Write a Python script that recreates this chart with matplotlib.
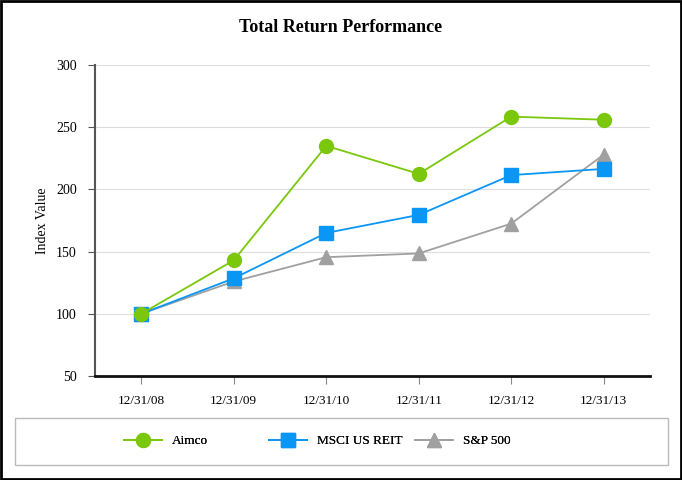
import numpy as np
import matplotlib
matplotlib.use("Agg")
import matplotlib.pyplot as plt
from matplotlib.patches import Rectangle
from matplotlib.lines import Line2D

plt.rcParams['font.family'] = ['Liberation Serif', 'DejaVu Serif']

# Data
dates = ["12/31/08", "12/31/09", "12/31/10", "12/31/11", "12/31/12", "12/31/13"]
aimco = [100, 143, 235, 212.5, 258.5, 256]
msci_reit = [100, 128.5, 165, 179.5, 211.5, 216.5]
sp500 = [100, 126, 145.5, 148.5, 172.5, 228]
y_ticks = [50, 100, 150, 200, 250, 300]

GREEN = '#7ac70c'
BLUE = '#0a96f5'
GRAY = '#a0a0a0'

fig = plt.figure(figsize=(6.82, 4.8), dpi=100)
ax = fig.add_axes([95 / 682, 104 / 480, 555 / 682, 311 / 480])

x = np.arange(len(dates))
ax.plot(x, sp500, color=GRAY, lw=1.3, marker='^', ms=10, zorder=3)
ax.plot(x, msci_reit, color=BLUE, lw=1.3, marker='s', ms=10, zorder=4)
ax.plot(x, aimco, color=GREEN, lw=1.3, marker='o', ms=10, zorder=5)

ax.set_xlim(-0.5, 5.5)
ax.set_ylim(50, 300)
ax.set_yticks(y_ticks)
ax.set_xticks(x)
ax.set_xticklabels(dates, fontsize=9.5)
ax.tick_params(axis='y', labelsize=10, length=5, color='#555555', pad=8)
ax.tick_params(axis='x', length=6, color='#888888', direction='out', pad=8)
ax.grid(axis='y', color='#dddddd', lw=0.8)
ax.set_axisbelow(True)
ax.set_ylabel('Index Value', fontsize=10, labelpad=5)

for s in ['top', 'right']:
    ax.spines[s].set_visible(False)
ax.spines['left'].set_color('#555555')
ax.spines['left'].set_linewidth(1.5)
ax.spines['bottom'].set_color('#111111')
ax.spines['bottom'].set_linewidth(2)

fig.text(0.5, 1 - 28 / 480, 'Total Return Performance', ha='center', va='center',
         fontsize=13, fontweight='bold')

# Legend box
fig.patches.append(Rectangle((15 / 682, 1 - 465 / 480), 653 / 682, 47 / 480,
                             transform=fig.transFigure, fill=False,
                             edgecolor='#bbbbbb', lw=1))
entries = [("Aimco", GREEN, 'o', 124), ("MSCI US REIT", BLUE, 's', 269), ("S&P 500", GRAY, '^', 415)]
for label, col, mk, px in entries:
    h = Line2D([0], [0], color=col, marker=mk, ms=10, lw=1.3)
    leg = fig.legend(handles=[h], labels=[label], loc='center left',
                     bbox_to_anchor=(px / 682, 1 - 441 / 480), frameon=False,
                     fontsize=9.5, handlelength=2.9, handletextpad=0.75,
                     borderpad=0, borderaxespad=0)
    fig.add_artist(leg)

# Outer border
fig.patches.append(Rectangle((0.001, 0.002), 0.997, 0.996, transform=fig.transFigure,
                             fill=False, edgecolor='black', lw=2))

fig.savefig('out.png', dpi=100)
